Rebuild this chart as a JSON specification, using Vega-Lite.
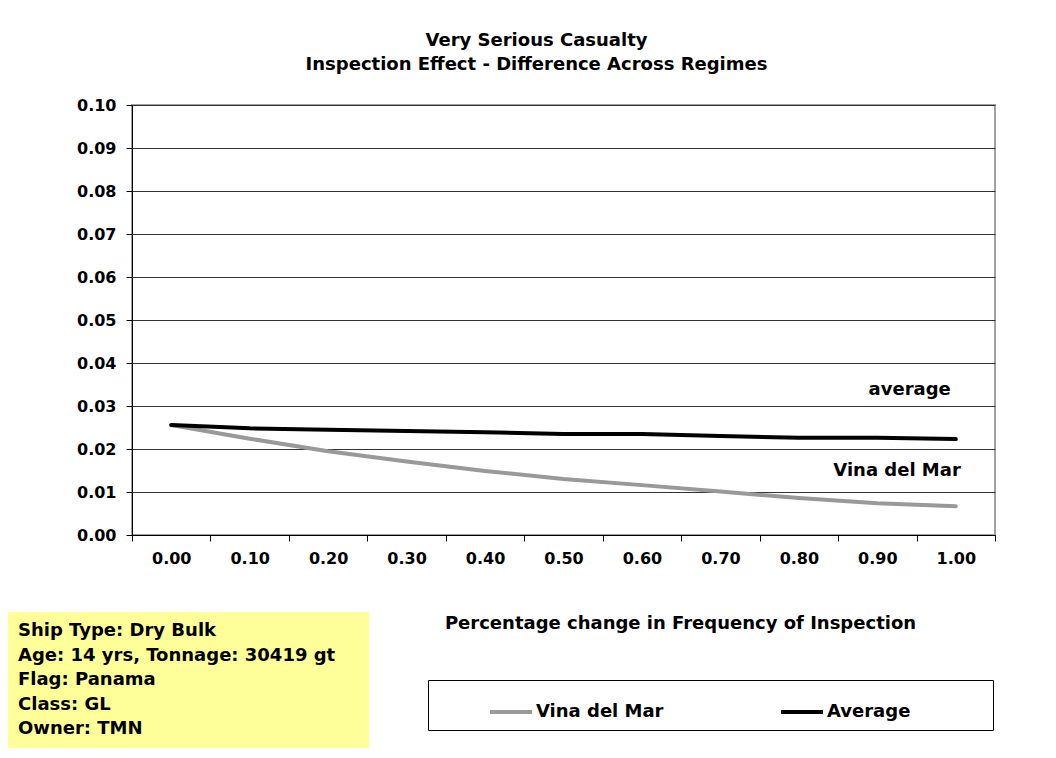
{
  "$schema": "https://vega.github.io/schema/vega-lite/v6.json",
  "width": 863,
  "height": 430,
  "autosize": {"type": "none"},
  "padding": {"left": 132, "top": 105, "right": 61, "bottom": 223},
  "background": "white",
  "title": {
    "text": ["Very Serious Casualty", "Inspection Effect - Difference Across Regimes"],
    "font": "DejaVu Sans",
    "fontSize": 18,
    "fontWeight": "bold",
    "color": "black",
    "anchor": "middle",
    "dx": -27,
    "offset": 23,
    "lineHeight": 24
  },
  "config": {
    "font": "DejaVu Sans",
    "view": {"stroke": "#a0a0a0", "strokeWidth": 2},
    "axis": {
      "labelFont": "DejaVu Sans",
      "labelFontSize": 16,
      "labelFontWeight": "bold",
      "labelColor": "black",
      "titleFont": "DejaVu Sans",
      "titleFontSize": 18,
      "titleFontWeight": "bold",
      "titleColor": "black",
      "domainColor": "black",
      "tickColor": "black",
      "tickSize": 6,
      "gridColor": "#333333",
      "gridOpacity": 1
    }
  },
  "data": {
    "values": [
      {"pct": "0.00", "series": "Vina del Mar", "v": 0.0256},
      {"pct": "0.10", "series": "Vina del Mar", "v": 0.0224},
      {"pct": "0.20", "series": "Vina del Mar", "v": 0.0195},
      {"pct": "0.30", "series": "Vina del Mar", "v": 0.0171},
      {"pct": "0.40", "series": "Vina del Mar", "v": 0.0149},
      {"pct": "0.50", "series": "Vina del Mar", "v": 0.0130},
      {"pct": "0.60", "series": "Vina del Mar", "v": 0.0116},
      {"pct": "0.70", "series": "Vina del Mar", "v": 0.0101},
      {"pct": "0.80", "series": "Vina del Mar", "v": 0.0086},
      {"pct": "0.90", "series": "Vina del Mar", "v": 0.0074},
      {"pct": "1.00", "series": "Vina del Mar", "v": 0.0067},
      {"pct": "0.00", "series": "Average", "v": 0.0256},
      {"pct": "0.10", "series": "Average", "v": 0.0248},
      {"pct": "0.20", "series": "Average", "v": 0.0245},
      {"pct": "0.30", "series": "Average", "v": 0.0242},
      {"pct": "0.40", "series": "Average", "v": 0.0239},
      {"pct": "0.50", "series": "Average", "v": 0.0235},
      {"pct": "0.60", "series": "Average", "v": 0.0235},
      {"pct": "0.70", "series": "Average", "v": 0.0230},
      {"pct": "0.80", "series": "Average", "v": 0.0226},
      {"pct": "0.90", "series": "Average", "v": 0.0226},
      {"pct": "1.00", "series": "Average", "v": 0.0223}
    ]
  },
  "layer": [
    {
      "mark": {"type": "line", "strokeWidth": 4, "strokeCap": "round", "strokeJoin": "round"},
      "encoding": {
        "x": {
          "field": "pct",
          "type": "ordinal",
          "sort": null,
          "bandPosition": 0.5,
          "scale": {"type": "band", "paddingInner": 0, "paddingOuter": 0},
          "axis": {
            "tickBand": "extent",
            "labelAngle": 0,
            "labelPadding": 9,
            "title": "Percentage change in Frequency of Inspection",
            "titleX": 548,
            "titleY": 88,
            "titleBaseline": "middle",
            "titleAnchor": "middle",
            "grid": false
          }
        },
        "y": {
          "field": "v",
          "type": "quantitative",
          "scale": {"domain": [0, 0.1], "nice": false},
          "axis": {
            "title": null,
            "values": [0, 0.01, 0.02, 0.03, 0.04, 0.05, 0.06, 0.07, 0.08, 0.09, 0.1],
            "format": ".2f",
            "labelPadding": 10,
            "grid": true
          }
        },
        "color": {
          "field": "series",
          "type": "nominal",
          "sort": ["Vina del Mar", "Average"],
          "scale": {"domain": ["Vina del Mar", "Average"], "range": ["#999999", "#000000"]},
          "legend": {
            "orient": "none",
            "legendX": 296,
            "legendY": 575,
            "direction": "horizontal",
            "title": "\u00a0",
            "titleOrient": "right",
            "titlePadding": 74,
            "titleFontSize": 10,
            "strokeColor": "black",
            "fillColor": "white",
            "padding": 9,
            "symbolType": "stroke",
            "symbolStrokeWidth": 4,
            "symbolSize": 1764,
            "symbolOffset": 51,
            "labelOffset": 2,
            "labelFont": "DejaVu Sans",
            "labelFontSize": 18,
            "labelFontWeight": "bold",
            "labelColor": "black",
            "columnPadding": 64
          }
        }
      }
    },
    {
      "mark": {"type": "point", "opacity": 0},
      "encoding": {
        "shape": {
          "datum": "Ship Type: Dry Bulk",
          "type": "nominal",
          "scale": {"domain": ["Ship Type: Dry Bulk", "Age: 14 yrs, Tonnage: 30419 gt", "Flag: Panama", "Class: GL", "Owner: TMN"]},
          "legend": {
            "orient": "none",
            "legendX": -124,
            "legendY": 507,
            "title": "\u00a0",
            "titleOrient": "right",
            "titlePadding": 24,
            "titleFontSize": 10,
            "fillColor": "#FFFF99",
            "padding": 10,
            "symbolSize": 0,
            "symbolOpacity": 0,
            "symbolStrokeWidth": 0,
            "symbolOffset": -18,
            "labelOffset": 0,
            "labelLimit": 500,
            "labelFont": "DejaVu Sans",
            "labelFontSize": 18,
            "labelFontWeight": "bold",
            "labelColor": "black",
            "rowPadding": 6.5
          }
        }
      }
    },
    {
      "data": {"values": [{"pct": "1.00", "v": 0.0338, "label": "average"}]},
      "mark": {"type": "text", "align": "right", "baseline": "middle", "dx": -5, "font": "DejaVu Sans", "fontSize": 18, "fontWeight": "bold", "color": "black"},
      "encoding": {
        "x": {"field": "pct", "type": "ordinal", "bandPosition": 0.5},
        "y": {"field": "v", "type": "quantitative"},
        "text": {"field": "label"}
      }
    },
    {
      "data": {"values": [{"pct": "1.00", "v": 0.0148, "label": "Vina del Mar"}]},
      "mark": {"type": "text", "align": "right", "baseline": "middle", "dx": 5, "font": "DejaVu Sans", "fontSize": 18, "fontWeight": "bold", "color": "black"},
      "encoding": {
        "x": {"field": "pct", "type": "ordinal", "bandPosition": 0.5},
        "y": {"field": "v", "type": "quantitative"},
        "text": {"field": "label"}
      }
    }
  ]
}
